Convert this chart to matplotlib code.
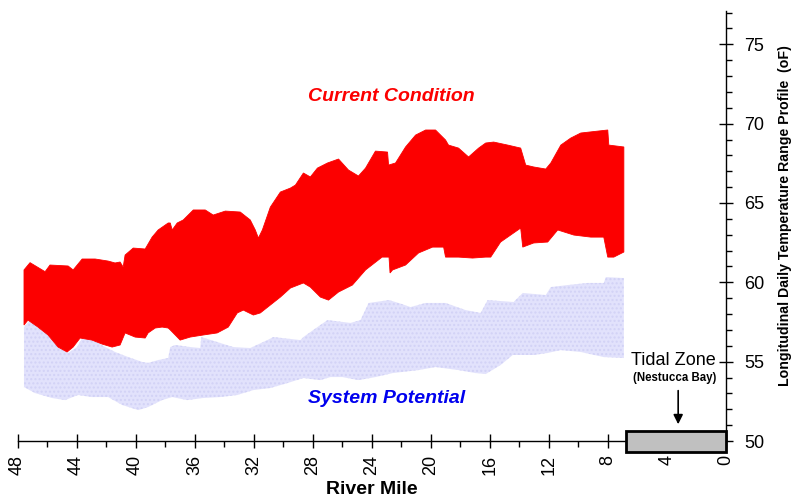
import numpy as np
import matplotlib
matplotlib.use("Agg")
import matplotlib.pyplot as plt
from matplotlib.ticker import MultipleLocator
from matplotlib.patches import Rectangle

plt.rcParams['font.family'] = ['Liberation Sans', 'DejaVu Sans']

# Current Condition band (upper / lower edges)
cc_up_mile = [47.56, 47.15, 46.13, 45.80, 44.57, 44.23, 43.62, 42.74, 41.86, 41.39, 41.05, 40.84, 40.71, 40.16,
              39.35, 38.88, 38.47, 37.79, 37.65, 37.52, 37.18, 36.77, 36.09, 35.28, 34.74, 33.92, 32.91, 32.23,
              31.89, 31.68, 31.41, 30.87, 30.19, 29.51, 29.17, 28.63, 28.16, 27.68, 27.00, 26.25, 25.58, 24.90,
              24.42, 23.75, 22.93, 22.86, 22.39, 21.71, 21.03, 20.35, 19.68, 19.00, 18.80, 18.12, 17.44, 16.76,
              16.28, 15.74, 14.79, 13.91, 13.57, 13.03, 12.21, 11.87, 11.19, 10.52, 9.84, 8.69, 8.01, 7.94, 6.92]
cc_up_T = [60.78, 61.24, 60.67, 61.09, 61.03, 60.78, 61.47, 61.47, 61.34, 61.22, 61.28, 60.96, 61.72, 62.16,
           62.10, 62.85, 63.30, 63.74, 63.74, 63.30, 63.74, 63.93, 64.56, 64.56, 64.24, 64.49, 64.43, 63.93,
           63.30, 62.79, 63.30, 64.74, 65.69, 65.94, 66.13, 66.89, 66.64, 67.20, 67.52, 67.77, 67.08, 66.70,
           67.20, 68.27, 68.21, 67.39, 67.52, 68.53, 69.28, 69.60, 69.60, 68.97, 68.65, 68.46, 67.90, 68.46,
           68.78, 68.84, 68.65, 68.46, 67.39, 67.27, 67.14, 67.52, 68.65, 69.09, 69.41, 69.53, 69.60, 68.65, 68.53]
cc_lo_mile = [47.56, 47.29, 46.61, 45.93, 45.25, 44.64, 44.23, 43.76, 42.95, 42.27, 41.59, 41.05, 40.71, 40.03,
              39.35, 39.15, 38.67, 38.20, 37.79, 37.65, 36.98, 36.30, 35.42, 34.47, 33.72, 33.11, 32.70, 32.02,
              31.55, 30.87, 30.19, 29.51, 28.63, 28.16, 27.48, 26.93, 26.25, 25.31, 24.42, 23.30, 22.83, 22.76,
              22.59, 21.71, 20.83, 19.88, 19.13, 19.00, 18.12, 17.17, 16.28, 15.94, 15.27, 14.39, 13.91, 13.77,
              13.03, 12.08, 11.40, 10.31, 9.16, 8.28, 8.01, 7.60, 6.92]
cc_lo_T = [57.31, 57.62, 57.18, 56.68, 55.92, 55.61, 55.92, 56.49, 56.36, 56.11, 55.92, 56.05, 56.81, 56.55,
           56.49, 56.81, 57.12, 57.18, 57.12, 57.00, 56.36, 56.55, 56.68, 56.81, 57.18, 58.07, 58.25, 57.94,
           58.07, 58.57, 59.07, 59.64, 59.96, 59.70, 59.07, 58.88, 59.39, 59.83, 60.78, 61.59, 61.59, 60.59,
           60.78, 61.09, 61.85, 62.22, 62.22, 61.59, 61.59, 61.53, 61.59, 61.59, 62.54, 63.11, 63.42, 62.22,
           62.48, 62.54, 63.30, 62.98, 62.85, 62.85, 61.59, 61.59, 61.91]

# System Potential band (upper / lower edges)
sp_up_mile = [47.56, 47.15, 46.61, 45.93, 45.25, 44.57, 43.96, 43.62, 42.95, 42.06, 41.39, 40.50, 39.55, 39.15,
              38.47, 37.79, 37.65, 37.31, 36.30, 35.62, 35.55, 33.38, 32.23, 31.07, 30.67, 28.83, 28.63, 27.68,
              27.00, 25.44, 24.76, 24.21, 22.83, 22.19, 21.37, 20.35, 19.00, 17.64, 16.62, 16.15, 14.39, 13.77,
              12.21, 11.87, 10.72, 9.36, 8.28, 8.14, 6.92]
sp_up_T = [57.18, 57.62, 57.31, 56.81, 55.92, 55.55, 55.92, 56.49, 56.43, 55.92, 55.61, 55.29, 54.98, 54.92,
           55.10, 55.23, 55.92, 56.05, 55.92, 55.86, 56.55, 55.92, 55.86, 56.36, 56.55, 56.36, 56.55, 57.18,
           57.62, 57.44, 57.62, 58.70, 58.88, 58.70, 58.44, 58.70, 58.70, 58.25, 58.07, 58.88, 58.76, 59.33,
           59.20, 59.70, 59.83, 59.96, 59.96, 60.33, 60.27]
sp_lo_mile = [47.56, 46.81, 45.66, 44.78, 43.90, 42.95, 41.86, 40.91, 39.82, 39.15, 38.20, 37.52, 36.50, 35.42,
              34.26, 33.11, 32.02, 30.87, 29.72, 28.63, 27.48, 26.80, 25.99, 24.90, 23.75, 22.59, 20.83, 19.68,
              18.12, 16.96, 16.28, 15.27, 14.45, 13.03, 12.08, 11.19, 9.84, 8.28, 6.92]
sp_lo_T = [53.40, 53.02, 52.71, 52.58, 52.90, 52.77, 52.77, 52.27, 51.95, 52.14, 52.58, 52.77, 52.58, 52.71,
           52.77, 52.90, 53.21, 53.34, 53.65, 53.97, 53.84, 54.03, 54.03, 53.84, 54.03, 54.28, 54.47, 54.66,
           54.47, 54.28, 54.22, 54.79, 55.42, 55.42, 55.55, 55.73, 55.61, 55.29, 55.23]

# Tidal zone
tidal_start_mile = 6.75
tidal_end_mile = 0.0
tidal_low_T = 49.3
tidal_high_T = 50.65
x_ticks = [48, 44, 40, 36, 32, 28, 24, 20, 16, 12, 8, 4, 0]
y_ticks = [50, 55, 60, 65, 70, 75]

fig = plt.figure(figsize=(7.93, 5.0), dpi=100)
ax = fig.add_axes([17.5 / 793, 1 - 441 / 500, (726 - 17.5) / 793, 430 / 500])
ax.set_xlim(48, 0)
ax.set_ylim(50, 77.1)

# System potential band
sp_x = np.concatenate([sp_up_mile, sp_lo_mile[::-1]])
sp_y = np.concatenate([sp_up_T, sp_lo_T[::-1]])
ax.fill(sp_x, sp_y, facecolor='#e2e2fc', edgecolor='#d2d2f6', hatch='....', linewidth=0, zorder=2)

# Current condition band
cc_x = np.concatenate([cc_up_mile, cc_lo_mile[::-1]])
cc_y = np.concatenate([cc_up_T, cc_lo_T[::-1]])
ax.fill(cc_x, cc_y, facecolor='#fc0000', edgecolor='#fc0000', linewidth=0.6, zorder=3)

for s in ['top', 'left']:
    ax.spines[s].set_visible(False)
ax.spines['right'].set_linewidth(1.0)
ax.spines['bottom'].set_linewidth(1.0)

ax.yaxis.tick_right()
ax.set_yticks(y_ticks)
ax.yaxis.set_minor_locator(MultipleLocator(1))
ax.set_xticks(x_ticks)
ax.xaxis.set_minor_locator(MultipleLocator(2))
ax.tick_params(axis='y', which='major', direction='inout', length=10, width=1, labelsize=13, pad=8)
ax.tick_params(axis='y', which='minor', direction='out', length=4, width=1)
ax.tick_params(axis='x', which='major', direction='inout', length=10, width=1, labelsize=13, pad=5,
               labelrotation=90)
ax.tick_params(axis='x', which='minor', direction='out', length=4, width=1)

# Tidal zone box
rect = Rectangle((tidal_start_mile, tidal_low_T), tidal_end_mile - tidal_start_mile, tidal_high_T - tidal_low_T,
                 facecolor='#c0c0c0', edgecolor='black', linewidth=2.0, clip_on=False, zorder=5)
ax.add_patch(rect)
ax.annotate('', xy=(3.24, 50.88), xytext=(3.24, 53.35),
            arrowprops=dict(arrowstyle='-|>', color='black', lw=1.2, mutation_scale=14), zorder=6)
ax.text(3.55, 55.05, 'Tidal Zone', fontsize=13, ha='center', va='center', zorder=6)
ax.text(3.45, 53.95, '(Nestucca Bay)', fontsize=8.3, fontweight='bold', ha='center', va='center', zorder=6)

ax.text(22.66, 71.68, 'Current Condition', color='#fc0000', fontsize=14, fontweight='bold',
        fontstyle='italic', ha='center', va='center')
ax.text(23.0, 52.65, 'System Potential', color='#0000ee', fontsize=14, fontweight='bold',
        fontstyle='italic', ha='center', va='center')

fig.text(372 / 793, 1 - 490 / 500, 'River Mile', fontsize=14, fontweight='bold', ha='center', va='center')
fig.text(785 / 793, 1 - 216 / 500, 'Longitudinal Daily Temperature Range Profile  (oF)', fontsize=10.2,
         fontweight='bold', rotation=90, ha='center', va='center')

fig.savefig('out.png', dpi=100)
